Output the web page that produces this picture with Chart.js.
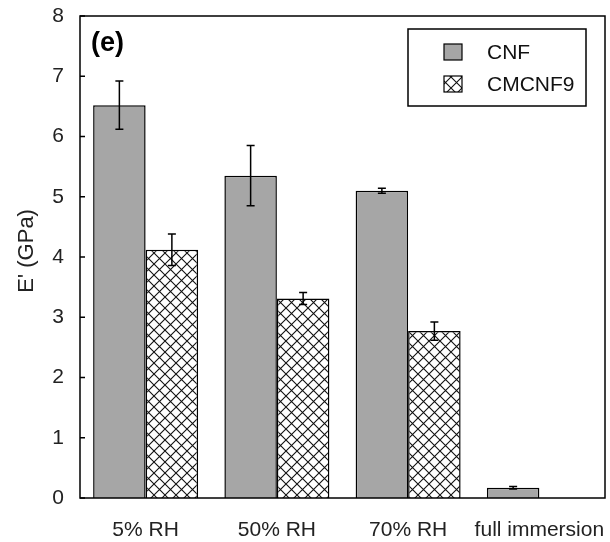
<!DOCTYPE html>
<html>
<head>
<meta charset="utf-8">
<script src="https://cdn.jsdelivr.net/npm/chart.js@4/dist/chart.umd.min.js"></script>
<style>
  html, body { margin: 0; padding: 0; background: #fff; }
  #wrap { width: 610px; height: 542px; }
</style>
</head>
<body>
<div id="wrap"><canvas id="chart"></canvas></div>
<script>
var categories = ['5% RH', '50% RH', '70% RH', 'full immersion'];
var cnfValues = [6.52, 5.35, 5.10, 0.17];
var cnfErrors = [0.40, 0.50, 0.04, 0.02];
var cmcValues = [4.12, 3.31, 2.77, null];
var cmcErrors = [0.26, 0.10, 0.15, null];
var yTicks = [0, 1, 2, 3, 4, 5, 6, 7, 8];

var FONT = "'Liberation Sans', Arial, sans-serif";

// cross hatch fill for CMCNF9
function makeHatch() {
  var c = document.createElement('canvas');
  c.width = 11; c.height = 11;
  var x = c.getContext('2d');
  x.fillStyle = '#fff';
  x.fillRect(0, 0, 11, 11);
  x.strokeStyle = '#111';
  x.lineWidth = 1.1;
  x.beginPath();
  x.moveTo(-1, -1); x.lineTo(12, 12);
  x.moveTo(12, -1); x.lineTo(-1, 12);
  x.stroke();
  return x.createPattern(c, 'repeat');
}
var hatch = makeHatch();

var errorBars = {
  id: 'errorBars',
  afterDatasetsDraw(chart) {
    const ctx = chart.ctx;
    const y = chart.scales.y;
    const errs = [cnfErrors, cmcErrors];
    ctx.save();
    ctx.strokeStyle = '#000';
    ctx.lineWidth = 1.5;
    chart.data.datasets.forEach((ds, di) => {
      const meta = chart.getDatasetMeta(di);
      meta.data.forEach((bar, i) => {
        const v = ds.data[i], e = errs[di][i];
        if (v == null || e == null) return;
        const top = y.getPixelForValue(v + e);
        const bot = y.getPixelForValue(v - e);
        ctx.beginPath();
        ctx.moveTo(bar.x, top); ctx.lineTo(bar.x, bot);
        ctx.moveTo(bar.x - 4, top); ctx.lineTo(bar.x + 4, top);
        ctx.moveTo(bar.x - 4, bot); ctx.lineTo(bar.x + 4, bot);
        ctx.stroke();
      });
    });
    ctx.restore();
  }
};

var frame = {
  id: 'frame',
  afterDraw(chart) {
    const ctx = chart.ctx;
    const a = chart.chartArea;
    const y = chart.scales.y;
    ctx.save();
    ctx.strokeStyle = '#000';
    ctx.lineWidth = 1.5;
    ctx.strokeRect(a.left, a.top, a.right - a.left, a.bottom - a.top);
    // inward ticks
    ctx.beginPath();
    yTicks.forEach(t => {
      const py = y.getPixelForValue(t);
      ctx.moveTo(a.left, py); ctx.lineTo(a.left + 5, py);
    });
    ctx.stroke();

    // panel label
    ctx.fillStyle = '#000';
    ctx.font = 'bold 27px ' + FONT;
    ctx.textBaseline = 'middle';
    ctx.textAlign = 'left';
    ctx.fillText('(e)', 91, 44);

    // legend
    ctx.lineWidth = 1.5;
    ctx.strokeRect(408, 29, 178, 77);
    const items = [
      { label: chart.data.datasets[0].label, fill: chart.data.datasets[0].backgroundColor, y: 52 },
      { label: chart.data.datasets[1].label, fill: chart.data.datasets[1].backgroundColor, y: 84 }
    ];
    ctx.font = '21px ' + FONT;
    items.forEach(it => {
      ctx.fillStyle = it.fill;
      ctx.fillRect(444, it.y - 8, 18, 16);
      ctx.lineWidth = 1.2;
      ctx.strokeStyle = '#000';
      ctx.strokeRect(444, it.y - 8, 18, 16);
      ctx.fillStyle = '#111';
      ctx.fillText(it.label, 487, it.y + 1);
    });
    ctx.restore();
  }
};

new Chart(document.getElementById('chart'), {
  type: 'bar',
  data: {
    labels: categories,
    datasets: [
      {
        label: 'CNF',
        data: cnfValues,
        backgroundColor: '#a6a6a6',
        borderColor: '#000',
        borderWidth: 1.5
      },
      {
        label: 'CMCNF9',
        data: cmcValues,
        backgroundColor: hatch,
        borderColor: '#000',
        borderWidth: 1.5
      }
    ]
  },
  plugins: [errorBars, frame],
  options: {
    responsive: true,
    maintainAspectRatio: false,
    animation: false,
    layout: { padding: { top: 16, right: 5, left: 0, bottom: 0 } },
    plugins: {
      legend: { display: false },
      tooltip: { enabled: false }
    },
    datasets: {
      bar: { categoryPercentage: 0.8, barPercentage: 1.0 }
    },
    scales: {
      x: {
        grid: { display: false, drawTicks: false },
        border: { display: false },
        ticks: { font: { family: FONT, size: 21 }, color: '#222', padding: 20, maxRotation: 0, autoSkip: false },
        afterFit(s) { s.height = 44; s.paddingLeft = 0; s.paddingRight = 0; }
      },
      y: {
        min: 0,
        max: 8,
        grid: { display: false, drawTicks: false },
        border: { display: false },
        ticks: { stepSize: 1, font: { family: FONT, size: 21 }, color: '#222', padding: 16 },
        title: {
          display: true,
          text: "  E' (GPa)",
          font: { family: FONT, size: 22 },
          color: '#222',
          padding: { top: 14, bottom: 0 }
        },
        afterFit(s) { s.width = 80; s.paddingTop = 0; s.paddingBottom = 0; }
      }
    }
  }
});
</script>
</body>
</html>
